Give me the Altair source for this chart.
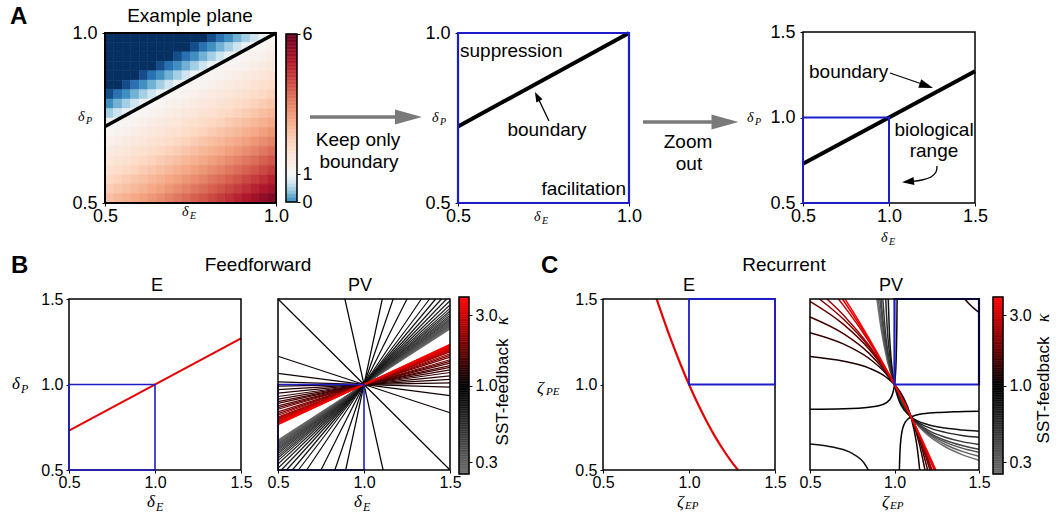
import altair as alt
import numpy as np
import pandas as pd

W, H = 1060, 523
SANS = "Liberation Sans"
SERIF = "Liberation Serif"
BLUE = "#1c1cc8"
RED = "#e60000"
ARROW_GRAY = "#7a7a7a"

# ---------------- data ----------------
HEAT_X_EDGES = [0.5, 0.525, 0.55, 0.575, 0.6, 0.625, 0.65, 0.675, 0.7, 0.725, 0.75,
                0.775, 0.8, 0.825, 0.85, 0.875, 0.9, 0.925, 0.95, 0.975, 1.0]
HEAT_Y_EDGES = [1.0, 0.9722, 0.9444, 0.9167, 0.8889, 0.8611, 0.8333, 0.8056, 0.7778, 0.75,
                0.7222, 0.6944, 0.6667, 0.6389, 0.6111, 0.5833, 0.5556, 0.5278, 0.5]
HEAT_ROWS = [
    [-0.5] * 12 + [-0.34, -0.13, 0.07, 0.28, 0.48, 0.69, 0.90, 1.04],
    [-0.5] * 10 + [-0.34, -0.13, 0.07, 0.28, 0.48, 0.69, 0.90, 1.04, 1.11, 1.18],
    [-0.5] * 8 + [-0.34, -0.13, 0.07, 0.28, 0.48, 0.69, 0.90, 1.04, 1.11, 1.18, 1.26, 1.35],
    [-0.5] * 6 + [-0.34, -0.13, 0.07, 0.28, 0.48, 0.69, 0.90, 1.04, 1.11, 1.18, 1.26, 1.35, 1.44, 1.53],
    [-0.5] * 4 + [-0.34, -0.13, 0.07, 0.28, 0.48, 0.69, 0.90, 1.04, 1.11, 1.18, 1.26, 1.35, 1.44, 1.53, 1.62, 1.72],
    [-0.5] * 2 + [-0.34, -0.13, 0.07, 0.28, 0.48, 0.69, 0.90, 1.04, 1.11, 1.18, 1.26, 1.35, 1.44, 1.53, 1.62, 1.72, 1.82, 1.93],
    [-0.34, -0.13, 0.07, 0.28, 0.48, 0.69, 0.90, 1.04, 1.11, 1.18, 1.26, 1.35, 1.44, 1.53, 1.62, 1.72, 1.82, 1.93, 2.04, 2.15],
    [0.07, 0.28, 0.48, 0.69, 0.90, 1.04, 1.11, 1.18, 1.26, 1.35, 1.44, 1.53, 1.62, 1.72, 1.82, 1.93, 2.04, 2.15, 2.27, 2.39],
    [0.48, 0.69, 0.90, 1.04, 1.11, 1.18, 1.26, 1.35, 1.44, 1.53, 1.62, 1.72, 1.82, 1.93, 2.04, 2.15, 2.27, 2.39, 2.52, 2.65],
    [0.90, 1.04, 1.11, 1.18, 1.26, 1.35, 1.44, 1.53, 1.62, 1.72, 1.82, 1.93, 2.04, 2.15, 2.27, 2.39, 2.52, 2.65, 2.78, 2.92],
    [1.11, 1.18, 1.26, 1.35, 1.44, 1.53, 1.62, 1.72, 1.82, 1.93, 2.04, 2.15, 2.27, 2.39, 2.52, 2.65, 2.78, 2.92, 3.06, 3.20],
    [1.26, 1.35, 1.44, 1.53, 1.62, 1.72, 1.82, 1.93, 2.04, 2.15, 2.27, 2.39, 2.52, 2.65, 2.78, 2.92, 3.06, 3.20, 3.35, 3.50],
    [1.44, 1.53, 1.62, 1.72, 1.82, 1.93, 2.04, 2.15, 2.27, 2.39, 2.52, 2.65, 2.78, 2.92, 3.06, 3.20, 3.35, 3.50, 3.66, 3.82],
    [1.62, 1.72, 1.82, 1.93, 2.04, 2.15, 2.27, 2.39, 2.52, 2.65, 2.78, 2.92, 3.06, 3.20, 3.35, 3.50, 3.66, 3.82, 3.98, 4.15],
    [1.82, 1.93, 2.04, 2.15, 2.27, 2.39, 2.52, 2.65, 2.78, 2.92, 3.06, 3.20, 3.35, 3.50, 3.66, 3.82, 3.98, 4.15, 4.32, 4.50],
    [2.04, 2.15, 2.27, 2.39, 2.52, 2.65, 2.78, 2.92, 3.06, 3.20, 3.35, 3.50, 3.66, 3.82, 3.98, 4.15, 4.32, 4.50, 4.67, 4.86],
    [2.27, 2.39, 2.52, 2.65, 2.78, 2.92, 3.06, 3.20, 3.35, 3.50, 3.66, 3.82, 3.98, 4.15, 4.32, 4.50, 4.67, 4.86, 5.04, 5.23],
    [2.52, 2.65, 2.78, 2.92, 3.06, 3.20, 3.35, 3.50, 3.66, 3.82, 3.98, 4.15, 4.32, 4.50, 4.67, 4.86, 5.04, 5.23, 5.43, 5.62],
]
assert len(HEAT_ROWS) == len(HEAT_Y_EDGES) - 1
assert all(len(r) == len(HEAT_X_EDGES) - 1 for r in HEAT_ROWS)

A_BOUNDARY_X = [0.5, 1.0]
A_BOUNDARY_Y = [0.725, 1.0]
WIDE_BOUNDARY_X = [0.5, 1.5]
WIDE_BOUNDARY_Y = [0.73, 1.27]
BIO_BOX = [0.5, 1.0]
REC_BOX = [1.0, 1.5]

FF_PV_KAPPA = [0.25, 0.265, 0.28, 0.295, 0.31, 0.33, 0.35, 0.37, 0.39, 0.41, 0.435, 0.46, 0.49, 0.52, 0.55,
               0.59, 0.63, 0.67, 0.71, 0.75, 0.79, 0.83, 0.87, 0.91, 0.95, 0.98,
               1.02, 1.05, 1.08, 1.11, 1.14,
               1.18, 1.22, 1.27, 1.32, 1.38, 1.45, 1.52, 1.6, 1.7, 1.8, 1.92, 2.05, 2.2, 2.35,
               2.5, 2.65, 2.8, 2.95, 3.1, 3.3, 3.5, 3.7, 3.85, 4.0]
FF_PV_SLOPE = [0.65, 0.66, 0.67, 0.68, 0.69, 0.70, 0.71, 0.725, 0.74, 0.755, 0.77, 0.79, 0.81, 0.835, 0.86,
               0.89, 0.93, 0.98, 1.04, 1.11, 1.2, 1.31, 1.5, 2.0, 2.95, 4.7,
               -4.5, -1.0, -0.33, -0.13, -0.03,
               0.02, 0.06, 0.10, 0.14, 0.17, 0.20, 0.22, 0.25, 0.27, 0.29, 0.32, 0.34, 0.36, 0.38,
               0.39, 0.40, 0.41, 0.42, 0.43, 0.44, 0.45, 0.46, 0.465, 0.47]
assert len(FF_PV_KAPPA) == len(FF_PV_SLOPE)

REC_E_X = [0.812, 0.85, 0.9, 0.95, 1.0, 1.05, 1.1, 1.15, 1.2, 1.25, 1.285]
REC_E_Y = [1.5, 1.388, 1.249, 1.12, 1.0, 0.89, 0.789, 0.698, 0.617, 0.545, 0.5]

REC_PV_KAPPA = [0.25, 0.30, 0.36, 0.42, 0.50, 0.62, 0.80, 0.80, 1.0, 1.0,
                1.15, 1.15, 1.3, 1.5, 1.75, 2.0, 2.4, 2.9, 3.4, 4.0]
REC_PV_X = [
    [0.896, 0.925, 0.955, 1.0, 1.043, 1.098, 1.2, 1.3, 1.4, 1.5],
    [0.904, 0.930, 0.958, 1.0, 1.042, 1.098, 1.2, 1.3, 1.4, 1.5],
    [0.913, 0.936, 0.961, 1.0, 1.041, 1.098, 1.2, 1.3, 1.4, 1.5],
    [0.920, 0.940, 0.963, 1.0, 1.040, 1.098, 1.2, 1.3, 1.4, 1.5],
    [0.931, 0.947, 0.967, 1.0, 1.038, 1.098, 1.2, 1.3, 1.4, 1.5],
    [0.948, 0.959, 0.974, 1.0, 1.034, 1.098, 1.2, 1.3, 1.4, 1.5],
    [0.963, 0.970, 0.980, 1.0, 1.012, 1.029, 1.06, 1.098, 1.2, 1.3, 1.4, 1.5],
    [0.5, 0.6, 0.7, 0.75, 0.8, 0.82, 0.845],
    [0.5, 0.7, 0.85, 0.93, 0.97, 0.99, 1.0, 1.005, 1.01, 1.0135, 1.0154],
    [1.0287, 1.0321, 1.0403, 1.0505, 1.0638, 1.0816, 1.098, 1.15, 1.25, 1.35, 1.5],
    [0.5, 0.7, 0.85, 0.95, 1.0, 1.05, 1.098, 1.13, 1.14, 1.149],
    [1.417, 1.43, 1.45, 1.47, 1.5],
    [0.5, 0.7, 0.85, 0.95, 1.0, 1.05, 1.098, 1.13, 1.16, 1.18],
    [0.5, 0.7, 0.85, 0.95, 1.0, 1.05, 1.098, 1.13, 1.16, 1.196],
    [0.5, 0.7, 0.85, 0.95, 1.0, 1.05, 1.098, 1.13, 1.16, 1.21],
    [0.556, 0.7, 0.85, 0.95, 1.0, 1.05, 1.098, 1.15, 1.2, 1.217],
    [0.600, 0.7, 0.85, 0.95, 1.0, 1.05, 1.098, 1.15, 1.2, 1.222],
    [0.668, 0.7, 0.85, 0.95, 1.0, 1.05, 1.098, 1.15, 1.2, 1.2345],
    [0.692, 0.85, 0.95, 1.0, 1.05, 1.098, 1.15, 1.2, 1.240],
    [0.707, 0.75, 0.85, 0.95, 1.0, 1.05, 1.098, 1.15, 1.2, 1.245],
]
REC_PV_Y = [
    [1.5, 1.3, 1.15, 1.0, 0.9, 0.81, 0.702, 0.636, 0.59, 0.557],
    [1.5, 1.3, 1.15, 1.0, 0.9, 0.81, 0.709, 0.649, 0.609, 0.580],
    [1.5, 1.3, 1.15, 1.0, 0.9, 0.81, 0.716, 0.663, 0.628, 0.604],
    [1.5, 1.3, 1.15, 1.0, 0.9, 0.81, 0.722, 0.674, 0.643, 0.621],
    [1.5, 1.3, 1.15, 1.0, 0.9, 0.81, 0.732, 0.692, 0.666, 0.649],
    [1.5, 1.3, 1.15, 1.0, 0.9, 0.81, 0.749, 0.720, 0.702, 0.691],
    [1.5, 1.3, 1.15, 1.0, 0.95, 0.9, 0.847, 0.81, 0.765, 0.745, 0.734, 0.727],
    [0.652, 0.640, 0.618, 0.597, 0.563, 0.541, 0.5],
    [0.855, 0.858, 0.867, 0.883, 0.909, 0.950, 1.0, 1.050, 1.151, 1.314, 1.5],
    [0.5, 0.6, 0.7, 0.75, 0.78, 0.8, 0.81, 0.826, 0.836, 0.840, 0.843],
    [1.164, 1.136, 1.096, 1.044, 1.0, 0.930, 0.81, 0.658, 0.586, 0.5],
    [1.5, 1.484, 1.463, 1.445, 1.422],
    [1.303, 1.236, 1.152, 1.063, 1.0, 0.918, 0.81, 0.714, 0.598, 0.5],
    [1.395, 1.296, 1.182, 1.071, 1.0, 0.913, 0.81, 0.727, 0.635, 0.5],
    [1.486, 1.350, 1.206, 1.078, 1.0, 0.910, 0.81, 0.734, 0.654, 0.5],
    [1.5, 1.380, 1.219, 1.081, 1.0, 0.909, 0.81, 0.688, 0.551, 0.5],
    [1.5, 1.404, 1.228, 1.083, 1.0, 0.908, 0.81, 0.691, 0.563, 0.5],
    [1.5, 1.460, 1.250, 1.088, 1.0, 0.906, 0.81, 0.699, 0.584, 0.5],
    [1.5, 1.260, 1.091, 1.0, 0.905, 0.81, 0.702, 0.5925, 0.5],
    [1.5, 1.433, 1.268, 1.092, 1.0, 0.905, 0.81, 0.704, 0.598, 0.5],
]
assert len(REC_PV_X) == len(REC_PV_Y) == len(REC_PV_KAPPA)
assert all(len(a) == len(b) for a, b in zip(REC_PV_X, REC_PV_Y))

CB_A_TICKS = [0, 1, 6]
CB_K_TICKS = [0.3, 1.0, 3.0]

# ---------------- layout helpers ----------------
PANELS = {
    "A1": {"dom": (0.5, 1.0), "x": (105, 276), "y": (203, 33), "ticks": [0.5, 1.0], "fs": 18},
    "A2": {"dom": (0.5, 1.0), "x": (458, 629), "y": (203, 33), "ticks": [0.5, 1.0], "fs": 18},
    "A3": {"dom": (0.5, 1.5), "x": (803, 975), "y": (203, 32), "ticks": [0.5, 1.0, 1.5], "fs": 18},
    "BE": {"dom": (0.5, 1.5), "x": (69, 241), "y": (470, 299), "ticks": [0.5, 1.0, 1.5], "fs": 16},
    "BPV": {"dom": (0.5, 1.5), "x": (278, 450), "y": (470, 299), "ticks": [0.5, 1.0, 1.5], "fs": 16},
    "CE": {"dom": (0.5, 1.5), "x": (603, 775), "y": (470, 299), "ticks": [0.5, 1.0, 1.5], "fs": 16},
    "CPV": {"dom": (0.5, 1.5), "x": (810, 979), "y": (470, 299), "ticks": [0.5, 1.0, 1.5], "fs": 16},
}


def lin(dom, rng):
    return alt.Scale(domain=list(dom), range=list(rng), nice=False, zero=False)


def X(p, field="x", axis=None):
    return alt.X(f"{field}:Q", scale=lin(PANELS[p]["dom"], PANELS[p]["x"]), axis=axis)


def Y(p, field="y", axis=None):
    return alt.Y(f"{field}:Q", scale=lin(PANELS[p]["dom"], PANELS[p]["y"]), axis=axis)


def axis_common(fs, pad):
    return dict(title=None, domain=False, grid=False, ticks=True, tickSize=3, tickColor="black",
                tickWidth=1, labelFont=SANS, labelFontSize=fs, labelColor="black",
                labelPadding=pad, labelFlush=False, labelOverlap=False)


def left_axis(p, pad=3):
    return alt.Axis(orient="left", offset=-PANELS[p]["x"][0], values=PANELS[p]["ticks"],
                    format=".1f", **axis_common(PANELS[p]["fs"], pad))


def bottom_axis(p, pad=1):
    return alt.Axis(orient="bottom", offset=PANELS[p]["y"][0] - H, values=PANELS[p]["ticks"],
                    format=".1f", **axis_common(PANELS[p]["fs"], pad))


def box(p, lo, hi, color="black", sw=1.5, xaxis=None, yaxis=None):
    df = pd.DataFrame({"x0": [lo[0]], "x1": [hi[0]], "y0": [lo[1]], "y1": [hi[1]]})
    return alt.Chart(df).mark_rect(fillOpacity=0, stroke=color, strokeWidth=sw).encode(
        x=X(p, "x0", xaxis), x2="x1", y=Y(p, "y0", yaxis), y2="y1")


def frame(p, color="black", sw=1.5, left=True, bottom=True, lpad=3, bpad=1):
    lo, hi = PANELS[p]["dom"]
    return box(p, (lo, lo), (hi, hi), color, sw,
               bottom_axis(p, bpad) if bottom else None,
               left_axis(p, lpad) if left else None)


def seg(p, xs, ys, color, width, interp="linear"):
    df = pd.DataFrame({"x": xs, "y": ys})
    return alt.Chart(df).mark_line(color=color, strokeWidth=width, interpolate=interp).encode(
        x=X(p), y=Y(p))


DUMMY = pd.DataFrame({"a": [0]})


def txt(s, x, y, size, align="left", font=SANS, style=None, weight=None, angle=None, color="black"):
    kw = dict(text=s, fontSize=size, font=font, align=align, baseline="middle", color=color)
    if style:
        kw["fontStyle"] = style
    if weight:
        kw["fontWeight"] = weight
    if angle:
        kw["angle"] = angle
    return alt.Chart(DUMMY).mark_text(**kw).encode(x=alt.value(x), y=alt.value(y))


def math(sym, sub, x, y, size, sx, sy, ssize):
    return [txt(sym, x, y, size, font=SERIF, style="italic"),
            txt(sub, sx, sy, ssize, font=SERIF, style="italic")]


def rule_px(x1, y1, x2, y2, color, width):
    return alt.Chart(DUMMY).mark_rule(color=color, strokeWidth=width).encode(
        x=alt.value(x1), y=alt.value(y1), x2=alt.value(x2), y2=alt.value(y2))


def head_px(x, y, size, angle, half, color):
    path = f"M-1,-{half}L1,0L-1,{half}Z"
    kw = dict(shape=path, size=size, filled=True, color=color, opacity=1, strokeWidth=0)
    if angle:
        kw["angle"] = angle
    return alt.Chart(DUMMY).mark_point(**kw).encode(x=alt.value(x), y=alt.value(y))


# RdBu-style diverging map, white at 1 (blue side saturates below 0)
HEAT_SCALE = alt.Scale(
    domain=[-0.5, -0.2, 0.1, 0.4, 0.7, 1.0, 2.0, 3.0, 4.0, 5.0, 6.0],
    range=["#053061", "#2166ac", "#4393c3", "#92c5de", "#d1e5f0", "#f7f7f7",
           "#fddbc7", "#f4a582", "#d6604d", "#b2182b", "#67001f"],
    interpolate="rgb", clamp=True)
K_SCALE = alt.Scale(type="log", domain=[0.25, 1, 4], range=["#6e6e6e", "#000000", "#ff0000"],
                    interpolate="rgb", nice=False)

layers = []

# ---------------- Panel A1: heat map ----------------
heat_records = []
for r, row in enumerate(HEAT_ROWS):
    for c, v in enumerate(row):
        heat_records.append({"x0": HEAT_X_EDGES[c], "x1": HEAT_X_EDGES[c + 1],
                             "y0": HEAT_Y_EDGES[r + 1], "y1": HEAT_Y_EDGES[r], "v": v})
layers.append(alt.Chart(pd.DataFrame(heat_records)).mark_rect(strokeWidth=0.6).encode(
    x=X("A1", "x0"), x2="x1", y=Y("A1", "y0"), y2="y1",
    color=alt.Color("v:Q", scale=HEAT_SCALE, legend=None),
    stroke=alt.Stroke("v:Q", scale=HEAT_SCALE, legend=None)))
layers.append(seg("A1", A_BOUNDARY_X, A_BOUNDARY_Y, "black", 3.5))
layers.append(frame("A1", sw=2, lpad=5))

# colour bar A
step = 0.05
cb_lo = np.arange(0, 6, step)
cbA = pd.DataFrame({"lo": cb_lo, "hi": cb_lo + step, "v": cb_lo + step / 2})
cbA_scale = lin((0, 6), (202, 34))
layers.append(alt.Chart(cbA).mark_rect(strokeWidth=0.5).encode(
    x=alt.value(286), x2=alt.value(297),
    y=alt.Y("lo:Q", scale=cbA_scale,
            axis=alt.Axis(orient="right", offset=297 - W, values=CB_A_TICKS, format="d",
                          **axis_common(18, 2))),
    y2="hi",
    color=alt.Color("v:Q", scale=HEAT_SCALE, legend=None),
    stroke=alt.Stroke("v:Q", scale=HEAT_SCALE, legend=None)))
layers.append(alt.Chart(pd.DataFrame({"lo": [0], "hi": [6]})).mark_rect(
    fillOpacity=0, stroke="black", strokeWidth=1.5).encode(
    x=alt.value(286), x2=alt.value(297), y=alt.Y("lo:Q", scale=cbA_scale, axis=None), y2="hi"))

# ---------------- Panel A2 ----------------
layers.append(seg("A2", A_BOUNDARY_X, A_BOUNDARY_Y, "black", 4))
layers.append(frame("A2", color=BLUE, sw=2.2, lpad=5))

# ---------------- Panel A3 ----------------
layers.append(seg("A3", WIDE_BOUNDARY_X, WIDE_BOUNDARY_Y, "black", 4))
layers.append(frame("A3", sw=1.5, lpad=5))
layers.append(box("A3", (BIO_BOX[0], BIO_BOX[0]), (BIO_BOX[1], BIO_BOX[1]), BLUE, 2))

# ---------------- Panel B: feedforward ----------------
layers.append(seg("BE", WIDE_BOUNDARY_X, WIDE_BOUNDARY_Y, RED, 2))
layers.append(frame("BE", sw=1.5))
layers.append(box("BE", (BIO_BOX[0], BIO_BOX[0]), (BIO_BOX[1], BIO_BOX[1]), BLUE, 1.6))

rule_rows = []
for k, m in zip(FF_PV_KAPPA, FF_PV_SLOPE):
    t = min(0.5, 0.5 / abs(m)) if m != 0 else 0.5
    rule_rows.append({"x0": 1 - t, "y0": 1 - m * t, "x1": 1 + t, "y1": 1 + m * t, "k": k})
layers.append(alt.Chart(pd.DataFrame(rule_rows)).mark_rule(strokeWidth=1.2).encode(
    x=X("BPV", "x0"), y=Y("BPV", "y0"), x2="x1", y2="y1",
    color=alt.Color("k:Q", scale=K_SCALE, legend=None)))
layers.append(box("BPV", (BIO_BOX[0], BIO_BOX[0]), (BIO_BOX[1], BIO_BOX[1]), BLUE, 1.6))
layers.append(frame("BPV", sw=1.5, left=False))

# ---------------- Panel C: recurrent ----------------
layers.append(seg("CE", REC_E_X, REC_E_Y, RED, 2.2, "monotone"))
layers.append(frame("CE", sw=1.5))
layers.append(box("CE", (REC_BOX[0], REC_BOX[0]), (REC_BOX[1], REC_BOX[1]), BLUE, 1.8))

curve_rows = []
for ci, (k, xs, ys) in enumerate(zip(REC_PV_KAPPA, REC_PV_X, REC_PV_Y)):
    for i, (xv, yv) in enumerate(zip(xs, ys)):
        curve_rows.append({"cid": f"c{ci:02d}", "i": i, "x": xv, "y": yv, "k": k})
layers.append(alt.Chart(pd.DataFrame(curve_rows)).mark_line(strokeWidth=1.5, interpolate="monotone").encode(
    x=X("CPV"), y=Y("CPV"), detail="cid:N", order=alt.Order("i:Q"),
    color=alt.Color("k:Q", scale=K_SCALE, legend=None)))
layers.append(box("CPV", (REC_BOX[0], REC_BOX[0]), (REC_BOX[1], REC_BOX[1]), BLUE, 2.2))
layers.append(frame("CPV", sw=1.5, left=False))

# ---------------- kappa colour bars ----------------
k_edges = 0.25 * 16 ** (np.arange(101) / 100)
cbK = pd.DataFrame({"lo": k_edges[:-1], "hi": k_edges[1:], "k": np.sqrt(k_edges[:-1] * k_edges[1:])})
for x_left, x_right in [(459, 469), (993, 1003)]:
    kscale_pos = alt.Scale(type="log", domain=[0.25, 4], range=[474, 297], nice=False)
    layers.append(alt.Chart(cbK).mark_rect(strokeWidth=0.5).encode(
        x=alt.value(x_left), x2=alt.value(x_right),
        y=alt.Y("lo:Q", scale=kscale_pos,
                axis=alt.Axis(orient="right", offset=x_right - W, values=CB_K_TICKS, format=".1f",
                              **axis_common(16, 3))),
        y2="hi",
        color=alt.Color("k:Q", scale=K_SCALE, legend=None),
        stroke=alt.Stroke("k:Q", scale=K_SCALE, legend=None)))
    layers.append(alt.Chart(pd.DataFrame({"lo": [0.25], "hi": [4.0]})).mark_rect(
        fillOpacity=0, stroke="black", strokeWidth=1.5).encode(
        x=alt.value(x_left), x2=alt.value(x_right),
        y=alt.Y("lo:Q", scale=alt.Scale(type="log", domain=[0.25, 4], range=[474, 297], nice=False),
                axis=None), y2="hi"))

# ---------------- arrows ----------------
layers.append(rule_px(310, 117, 397, 117, ARROW_GRAY, 3.5))
layers.append(head_px(408.5, 117, 729, 0, 0.56, ARROW_GRAY))
layers.append(rule_px(643, 122, 713, 122, ARROW_GRAY, 3.5))
layers.append(head_px(725, 122, 729, 0, 0.56, ARROW_GRAY))
layers.append(rule_px(549, 121, 538, 98, "black", 1.3))
layers.append(head_px(537.2, 96.5, 100, 243, 0.7, "black"))
layers.append(rule_px(890, 73, 922, 84, "black", 1.3))
layers.append(head_px(926.4, 85.7, 196, 19, 0.64, "black"))
curve_px = pd.DataFrame({"i": [0, 1, 2, 3, 4], "px": [937, 936, 931, 922, 912],
                         "py": [166, 172, 177, 180, 181.3]})
layers.append(alt.Chart(curve_px).mark_line(color="black", strokeWidth=1.3, interpolate="cardinal").encode(
    x=alt.X("px:Q", scale=None), y=alt.Y("py:Q", scale=None), order=alt.Order("i:Q")))
layers.append(head_px(908, 181.6, 144, 174, 0.67, "black"))

# ---------------- texts ----------------
layers += [
    txt("A", 10, 17, 24, weight="bold"),
    txt("B", 11, 266, 24, weight="bold"),
    txt("C", 541, 266, 24, weight="bold"),
    txt("Example plane", 190, 16, 19, align="center"),
    txt("Feedforward", 258, 265, 19, align="center"),
    txt("Recurrent", 784, 265, 19, align="center"),
    txt("E", 157, 286, 18, align="center"),
    txt("PV", 360, 286, 18, align="center"),
    txt("E", 689, 286, 18, align="center"),
    txt("PV", 891, 286, 18, align="center"),
    txt("suppression", 460, 51, 19),
    txt("boundary", 547, 130, 19, align="center"),
    txt("facilitation", 626, 189, 19, align="right"),
    txt("Keep only", 358, 140, 19, align="center"),
    txt("boundary", 359, 162, 19, align="center"),
    txt("Zoom", 688, 142, 19, align="center"),
    txt("out", 689, 164, 19, align="center"),
    txt("boundary", 809, 72, 19),
    txt("biological", 934, 130, 19, align="center"),
    txt("range", 934, 151, 19, align="center"),
    txt("SST-feedback", 503, 392, 17, align="center", angle=270),
    txt("κ", 503, 321, 18, align="center", font=SERIF, style="italic", angle=270),
    txt("SST-feedback", 1044, 390, 17, align="center", angle=270),
    txt("κ", 1044, 318, 18, align="center", font=SERIF, style="italic", angle=270),
]
layers += math("δ", "P", 78, 117, 14, 86, 121, 10)
layers += math("δ", "E", 182, 212, 14, 190, 216, 10)
layers += math("δ", "P", 432, 118, 14, 440, 122, 10)
layers += math("δ", "E", 534, 217, 14, 542, 221, 10)
layers += math("δ", "P", 747, 118, 14, 755, 122, 10)
layers += math("δ", "E", 881, 238, 14, 889, 242, 10)
layers += math("δ", "P", 12, 384, 17, 21, 389, 12)
layers += math("δ", "E", 147, 502, 17, 156, 507, 12)
layers += math("δ", "E", 354, 502, 17, 363, 507, 12)
layers += math("ζ", "PE", 537, 388, 17, 546, 392, 11)
layers += math("ζ", "EP", 677, 502, 17, 685, 506, 11)
layers += math("ζ", "EP", 882, 502, 17, 890, 506, 11)

chart = alt.layer(*layers).resolve_scale(
    x="independent", y="independent", color="independent", stroke="independent"
).properties(
    width=W, height=H, padding=0, background="white",
    autosize=alt.AutoSizeParams(type="none"),
).configure_view(strokeWidth=0)

chart.save("out.html", embed_options={"renderer": "svg", "actions": False})
